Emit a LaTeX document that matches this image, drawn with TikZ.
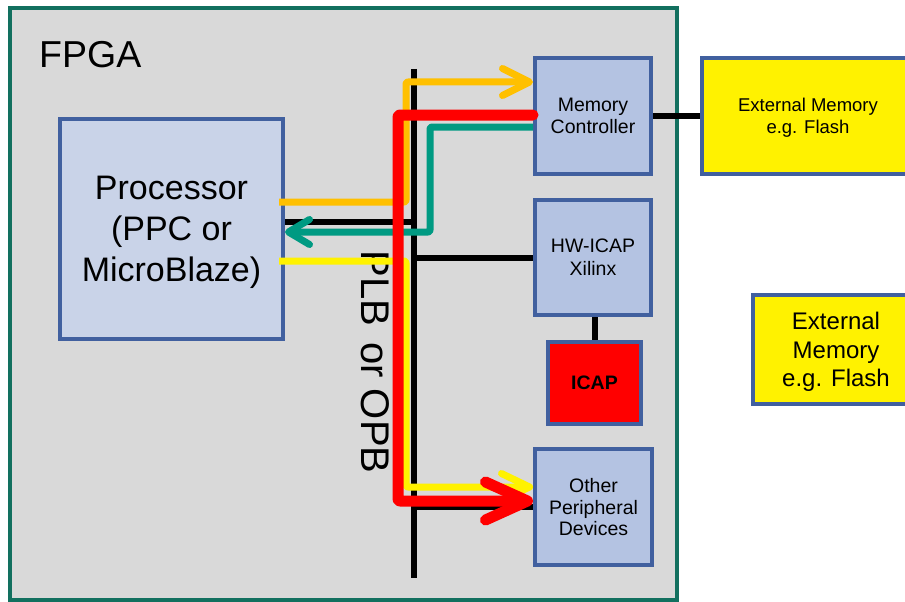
\documentclass[tikz,border=0pt]{standalone}
\usepackage{fontspec}
\setmainfont{Liberation Sans}
\usetikzlibrary{arrows.meta}
\definecolor{fpgagray}{HTML}{D9D9D9}
\definecolor{fpgaframe}{HTML}{12705F}
\definecolor{boxline}{HTML}{41609F}
\definecolor{procfill}{HTML}{C9D3E8}
\definecolor{boxfill}{HTML}{B4C3E2}
\definecolor{flowteal}{HTML}{009A82}
\definecolor{floworange}{HTML}{FFC000}

\begin{document}
\begin{tikzpicture}[x=1pt, y=-1pt,
    block/.style={draw=boxline, line width=4pt, fill=boxfill, align=center, inner sep=0pt,
        text depth=0pt, font=\fontsize{19.5}{22}\selectfont},
    wire/.style={line width=6pt},
    flow/.style={line width=7pt, line join=round, rounded corners=2pt}]
    \clip (0,0) rectangle (905,602);

    % FPGA frame
    \draw[fill=fpgagray, draw=fpgaframe, line width=4pt] (10,8) rectangle (677,600);
    \node[anchor=base west, inner sep=0pt, font=\fontsize{37.5}{40}\selectfont] (fpga) at (39,67) {FPGA};

    % Bus label
    \node[rotate=-90, inner sep=0pt, font=\fontsize{40}{44}\selectfont] (buslabel) at (375,362) {PLB\hspace{5pt} or OPB};

    % Processor
    \node[block, fill=procfill, minimum width=223pt, minimum height=220pt,
        font=\fontsize{34}{41}\selectfont] (proc) at (171.5,229) {Processor\\(PPC or\\MicroBlaze)};

    % Peripherals on the bus
    \node[block, minimum width=116pt, minimum height=116pt] (memctrl) at (593,116) {Memory\\Controller};
    \node[block, minimum width=116pt, minimum height=115pt,
        font=\fontsize{19.5}{23}\selectfont] (hwicap) at (593,257.5) {HW-ICAP\\Xilinx};
    \node[block, fill=red, minimum width=93pt, minimum height=82pt,
        font=\fontsize{19.5}{22}\selectfont\bfseries] (icap) at (594.5,383) {ICAP};
    \node[block, minimum width=117pt, minimum height=116pt,
        font=\fontsize{19.5}{21.5}\selectfont] (other) at (593.5,507) {Other\\Peripheral\\Devices};

    % External memories
    \node[block, fill=yellow, minimum width=212pt, minimum height=116pt,
        font=\fontsize{18.5}{22}\selectfont] (extmem) at (808,116) {External Memory\\e.g. Flash};
    \node[block, fill=yellow, minimum width=166pt, minimum height=109pt,
        font=\fontsize{24}{28.5}\selectfont] (extmemb) at (836,349.5) {External\\Memory\\e.g. Flash};

    % Bus and links
    \coordinate (bustop) at (414,69);
    \coordinate (busbot) at (414,578);
    \draw[wire] (bustop) -- (busbot);
    \draw[wire] (proc.east |- 0,222) -- (bustop |- 0,222);
    \draw[wire] (hwicap.west) -- (hwicap.west -| bustop);
    \draw[wire] (other.west) -- (other.west -| bustop);
    \draw[wire] (memctrl.east) -- (extmem.west);
    \draw[wire] (icap.north |- hwicap.south) -- (icap.north);

    % Orange: processor to memory controller
    \draw[flow, floworange, shorten <=-6pt, -{Straight Barb[round,length=27pt,width=27pt]}]
        (proc.east |- 0,202) -| (406,82) -- (memctrl.west |- 0,82);

    % Yellow: processor to other peripherals
    \draw[flow, yellow, shorten <=-6pt, -{Straight Barb[round,length=28pt,width=27pt]}]
        (proc.east |- 0,261) -| (406,487) -- (other.west |- 0,487);

    % Teal: memory controller back to processor
    \draw[flow, flowteal, -{Straight Barb[round,length=21pt,width=25pt]}]
        (memctrl.west |- 0,127) -| (430,232) -- (proc.east |- 0,232);

    % Red: memory controller to other peripherals
    \draw[flow, red, line width=11pt, line cap=round, -{Straight Barb[round,length=42pt,width=38pt]}]
        (memctrl.west |- 0,115) -| (398,501) -- (other.west |- 0,501);
\end{tikzpicture}
\end{document}
